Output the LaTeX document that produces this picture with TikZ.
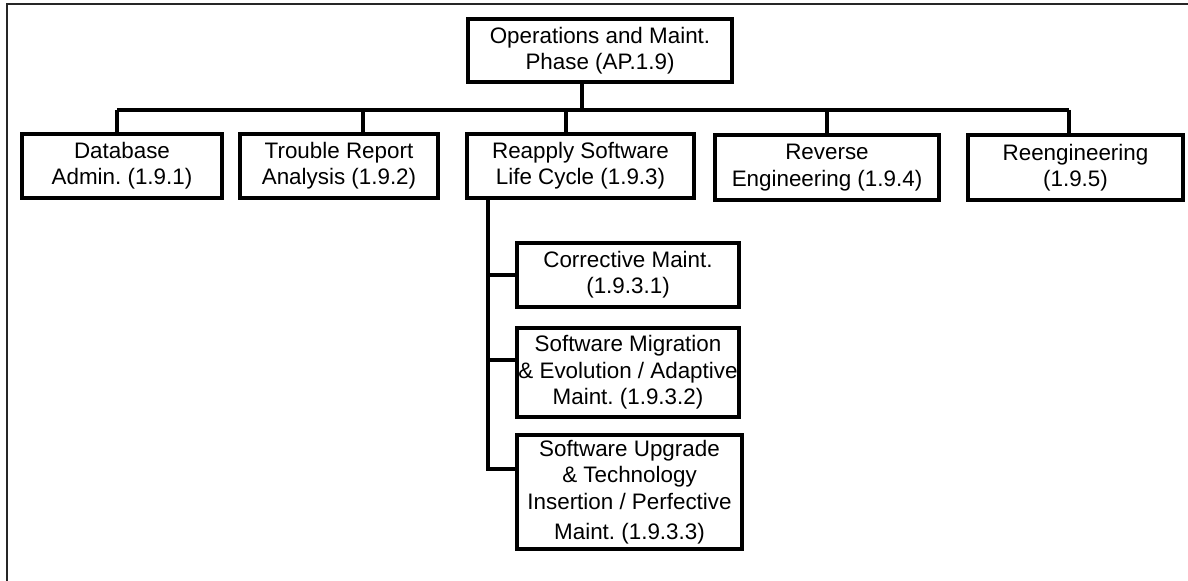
\documentclass[tikz,border=0pt]{standalone}
\usepackage{fontspec}
\setmainfont{Liberation Sans}
\frenchspacing
\begin{document}
\begin{tikzpicture}[x=0.75pt,y=-0.75pt,
  box/.style={draw=black,line width=2.3pt,rectangle,inner sep=0pt,align=center,
    font=\fontsize{16.8pt}{19.8pt}\selectfont},
  conn/.style={draw=black,line width=2.3pt},
  frame/.style={draw=black!85,line width=1.6pt}]
\useasboundingbox (0,0) rectangle (1188,581);
\draw[frame] (7,581) -- (7,4) -- (1188,4);
% top
\node[box,minimum width=264*0.75pt,minimum height=63*0.75pt] (top) at (600,50.5) {Operations and Maint.\\Phase (AP.1.9)};
% level 1
\node[box,minimum width=200*0.75pt,minimum height=64*0.75pt] (db) at (122,166) {Database\\Admin. (1.9.1)};
\node[box,minimum width=198*0.75pt,minimum height=64*0.75pt] (tr) at (339,166) {Trouble Report\\Analysis (1.9.2)};
\node[box,minimum width=227*0.75pt,minimum height=64*0.75pt] (ra) at (580.5,166) {Reapply Software\\Life Cycle (1.9.3)};
\node[box,minimum width=224*0.75pt,minimum height=65*0.75pt] (rv) at (827,167.5) {Reverse\\Engineering (1.9.4)};
\node[box,minimum width=215*0.75pt,minimum height=65*0.75pt] (rg) at (1075.5,167.5) {Reengineering\\(1.9.5)};
% level 2
\node[box,minimum width=222*0.75pt,minimum height=64*0.75pt] (cm) at (628,275) {Corrective Maint.\\(1.9.3.1)};
\node[box,minimum width=222*0.75pt,minimum height=89*0.75pt] (mg) at (628,372.5) {Software Migration\\\& Evolution / Adaptive\\Maint. (1.9.3.2)};
\node[box,minimum width=225*0.75pt,minimum height=114*0.75pt] (up) at (629.5,492) {Software Upgrade\\\& Technology\\Insertion / Perfective\\[3pt]Maint. (1.9.3.3)};
% bus coordinates
\coordinate (busT) at (582,110);
\coordinate (busL) at (117,110);
\coordinate (busR) at (1069,110);
\coordinate (dTR) at (363,110);
\coordinate (dRA) at (566,110);
\coordinate (dRV) at (827,110);
\draw[conn] (top.south -| busT) -- (busT);
\draw[conn] (busL) -- (busR);
\draw[conn] (busL) -- (busL |- db.north);
\draw[conn] (dTR) -- (dTR |- tr.north);
\draw[conn] (dRA) -- (dRA |- ra.north);
\draw[conn] (dRV) -- (dRV |- rv.north);
\draw[conn] (busR) -- (busR |- rg.north);
% trunk
\coordinate (tk) at (488,0);
\coordinate (bMG) at (0,360);
\coordinate (bUP) at (0,469);
\draw[conn] (ra.south -| tk) -- (tk |- bUP) -- (up.west |- bUP);
\draw[conn] (tk |- cm.west) -- (cm.west);
\draw[conn] (tk |- bMG) -- (mg.west |- bMG);
\end{tikzpicture}
\end{document}
